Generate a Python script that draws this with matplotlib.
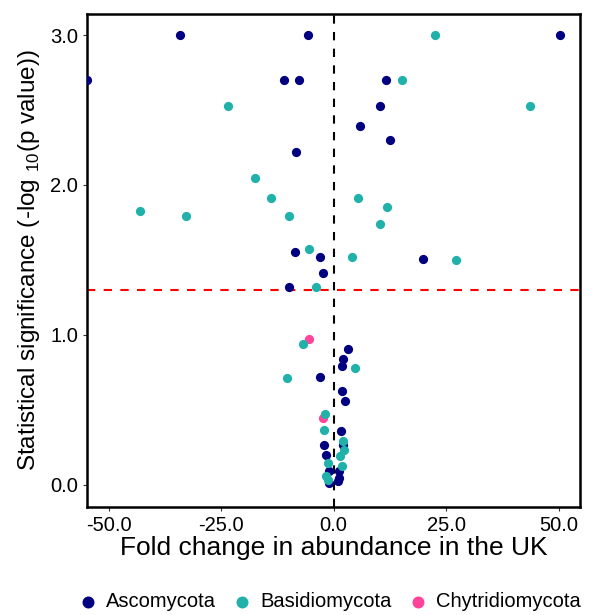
import numpy as np
import matplotlib.pyplot as plt

plt.rcParams['font.family'] = ['Liberation Sans', 'DejaVu Sans']
plt.rcParams['mathtext.fontset'] = 'custom'
plt.rcParams['mathtext.rm'] = 'Liberation Sans'

# fold change / -log10(p) per phylum
asco_x = [-34.1, -5.7, 50.2, -54.8, -11.0, -7.7, 11.6, 10.3, 5.9, 12.6, -8.3,
          -8.6, -3.1, 19.9, -2.3, -10.0, 3.2, 2.2, 1.8, -3.1, 1.8, 2.6, 1.6,
          2.2, -2.1, -1.6, -1.1, 1.1, 1.1, 1.0, -1.1]
asco_y = [3.0, 3.0, 3.0, 2.699, 2.699, 2.699, 2.699, 2.525, 2.395, 2.30, 2.22,
          1.556, 1.52, 1.507, 1.415, 1.318, 0.904, 0.84, 0.789, 0.718, 0.627,
          0.557, 0.36, 0.262, 0.262, 0.2, 0.089, 0.089, 0.044, 0.022, 0.011]

basi_x = [22.5, 15.2, -23.5, 43.7, -17.5, -13.9, 5.4, -43.1, -32.7, -9.8, 11.9,
          10.4, -5.5, 4.0, 27.1, -3.8, -6.9, 4.8, -10.4, -1.8, -2.1, 2.2, 2.4,
          1.5, -1.2, 1.9, -1.6, -1.2]
basi_y = [3.0, 2.699, 2.525, 2.525, 2.05, 1.915, 1.915, 1.825, 1.793, 1.793, 1.851,
          1.742, 1.573, 1.52, 1.498, 1.318, 0.942, 0.782, 0.709, 0.473, 0.367, 0.289,
          0.233, 0.189, 0.145, 0.122, 0.056, 0.033]

chyt_x = [-5.4, -2.4]
chyt_y = [0.971, 0.445]

fig = plt.figure(figsize=(6, 6.15), dpi=100)
ax = fig.add_axes([0.145, 0.176, 0.822, 0.801])

ms = 44
ax.scatter(chyt_x, chyt_y, s=ms, color='#FF4499', label='Chytridiomycota', zorder=3, linewidths=0)
ax.scatter(asco_x, asco_y, s=ms, color='#000080', label='Ascomycota', zorder=4, linewidths=0)
ax.scatter(basi_x, basi_y, s=ms, color='#20B2AA', label='Basidiomycota', zorder=5, linewidths=0)

ax.axhline(-np.log10(0.05), color='red', linestyle=(0, (4, 4)), linewidth=1.5, zorder=2)
ax.axvline(0, color='black', linestyle=(0, (4, 4)), linewidth=1.5, zorder=2)

ax.set_xlim(-54.8, 54.8)
ax.set_ylim(-0.147, 3.14)
ax.set_xticks([-50, -25, 0, 25, 50])
ax.set_xticklabels(['-50.0', '-25.0', '0.0', '25.0', '50.0'])
ax.set_yticks([0, 1, 2, 3])
ax.set_yticklabels(['0.0', '1.0', '2.0', '3.0'])
ax.tick_params(labelsize=14.5, colors='#333333', length=3, width=0.8, labelcolor='black')

for sp in ax.spines.values():
    sp.set_linewidth(1.8)
    sp.set_color('black')

ax.set_xlabel('Fold change in abundance in the UK', fontsize=19, labelpad=1)
ax.set_ylabel('Statistical significance (-log $_{10}$(p value))', fontsize=17.5, labelpad=6)

h, l = ax.get_legend_handles_labels()
order = [1, 2, 0]
fig.legend([h[i] for i in order], [l[i] for i in order], loc='center',
           bbox_to_anchor=(0.55, 0.022), ncol=3, frameon=False, fontsize=14.5,
           handlelength=0.8, handletextpad=0.5, columnspacing=0.9, markerscale=1.3)

plt.savefig('out.png')
